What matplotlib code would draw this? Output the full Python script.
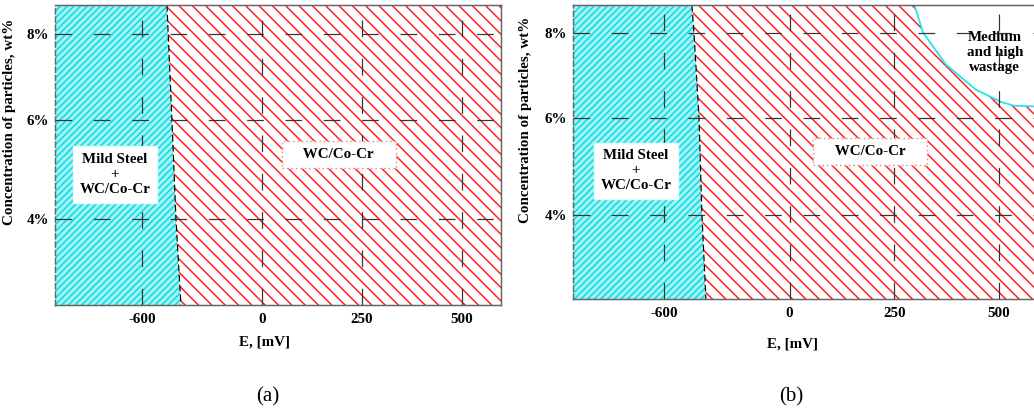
import numpy as np
import matplotlib
matplotlib.use("Agg")
from matplotlib import pyplot as plt

# E axis is compressed on the negative side, concentration axis is uneven
e_ticks = [-600, 0, 250, 500]
e_labels = ['-600', '0', '250', '500']
c_ticks = [4, 6, 8]
c_labels = ['4%', '6%', '8%']
e_lim = (-1035, 598)
c_lim = (2.26, 8.67)

# boundary between the two regions (E in mV, concentration wt%)
bound_a_E = [-475, -450, -430, -405]
bound_a_c = [8.67, 6, 4, 2.26]
bound_b_E = [-467, -457, -433, -419, -400]
bound_b_c = [8.67, 8, 6, 4, 2.26]

# medium/high wastage corner in (b)
wast_E = [298, 319, 374, 445, 505, 536, 600]
wast_c = [8.67, 8.01, 7.25, 6.66, 6.37, 6.28, 6.26]

DPI = 120
PT = 72 / DPI  # points per pixel

plt.rcParams['font.family'] = ['Liberation Serif', 'DejaVu Serif']
plt.rcParams['font.weight'] = 'bold'
plt.rcParams['hatch.linewidth'] = 0.9
plt.rcParams['lines.scale_dashes'] = False

yk = [0, 2, 4, 6, 8, 10, 12]
yp = [-112, -13, 86, 185, 271, 357, 443]


def fx(e):
    e = np.asarray(e, dtype=float)
    return np.where(e < 0, e / 2, e)


def fx_inv(p):
    p = np.asarray(p, dtype=float)
    return np.where(p < 0, p * 2, p)


def fy(c):
    return np.interp(c, yk, yp)


def fy_inv(p):
    return np.interp(p, yp, yk)


fig = plt.figure(figsize=(1034 / DPI, 416 / DPI), dpi=DPI)
ax_a = fig.add_axes([55 / 1034, 111 / 416, 446 / 1034, 300 / 416])
ax_b = fig.add_axes([573 / 1034, 117 / 416, 467 / 1034, 294 / 416])

grid_style = (0, (10, 13))
fs = 15 * PT


def setup(ax, bE, bc, xlab_y):
    ax.set_xscale('function', functions=(fx, fx_inv))
    ax.set_yscale('function', functions=(fy, fy_inv))
    ax.set_xlim(*e_lim)
    ax.set_ylim(*c_lim)

    # cyan region, left of the boundary
    xs = [e_lim[0]] + bE[::-1] + [e_lim[0]]
    ys = [c_lim[0]] + bc[::-1] + [c_lim[1]]
    ax.fill(xs, ys, facecolor='#a6f2f2', edgecolor='#00dde6',
            hatch='//////', lw=0, zorder=1)
    # red region, right of the boundary
    xs = bE + [e_lim[1], e_lim[1]]
    ys = bc + [c_lim[0], c_lim[1]]
    ax.fill(xs, ys, facecolor='white', edgecolor='#ff2020',
            hatch='\\\\\\', lw=0, zorder=1)
    ax.plot(bE, bc, color='black', lw=1.2 * PT, ls=(0, (4, 2)), zorder=2)

    ax.set_xticks(e_ticks, e_labels)
    ax.set_yticks(c_ticks, c_labels)
    ax.tick_params(length=0, labelsize=fs, pad=6 * PT)
    ax.tick_params(axis='x', pad=8 * PT)
    ax.set_axisbelow(False)
    ax.grid(True, color='#333333', lw=1.2 * PT, ls=grid_style)
    for s in ax.spines.values():
        s.set_color('#666666')
        s.set_linewidth(1.5 * PT)
    ax.spines['left'].set_linestyle((0, (3, 2)))

    ax.set_xlabel('E, [mV]', fontsize=fs, fontweight='bold')
    ax.xaxis.set_label_coords(0.47, xlab_y)
    ax.set_ylabel('Concentration of particles, wt%', fontsize=fs,
                  fontweight='bold')
    ax.yaxis.set_label_coords(-0.088, 0.61)

    ax.text(-735, 4.9, 'Mild Steel\n+\nWC/Co-Cr', ha='center', va='center',
            fontsize=fs, fontweight='bold', linespacing=1.2,
            bbox=dict(boxstyle='square,pad=0.45', facecolor='white',
                      edgecolor='#e8fbfb', lw=0.8))
    ax.text(192, 5.3, '    WC/Co-Cr    ', ha='center', va='center',
            fontsize=fs, fontweight='bold',
            bbox=dict(boxstyle='square,pad=0.45', facecolor='white',
                      edgecolor='#f08a8a', lw=0.8, ls=':'))


setup(ax_a, bound_a_E, bound_a_c, -0.1)
setup(ax_b, bound_b_E, bound_b_c, -0.13)

# white corner with cyan border in (b)
ax_b.fill(wast_E + [600], wast_c + [8.67], facecolor='white', lw=0, zorder=1.5)
ax_b.plot(wast_E, wast_c, color='#22e5ee', lw=1.8 * PT, zorder=2)
ax_b.text(490, 7.55, 'Medium\nand high\nwastage', ha='center', va='center',
          fontsize=fs, fontweight='bold', linespacing=1.2, zorder=4)

fig.text(268 / 1034, 1 - 397 / 416, '(a)', ha='center', va='center',
         fontsize=21 * PT, fontweight='normal')
fig.text(791 / 1034, 1 - 397 / 416, '(b)', ha='center', va='center',
         fontsize=21 * PT, fontweight='normal')

fig.savefig('out.png', dpi=DPI)
